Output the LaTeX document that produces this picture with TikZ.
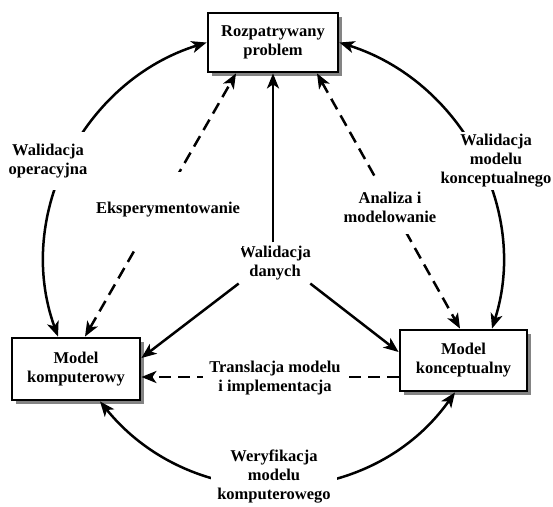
\documentclass[tikz,border=0pt]{standalone}
\usepackage{fontspec}
\setmainfont{Liberation Serif}
\usetikzlibrary{arrows.meta,shadows,calc}
\begin{document}
\begin{tikzpicture}[x=1pt,y=-1pt,
  >={Stealth[length=15pt,width=12pt,inset=4pt]},
  txt/.style={font=\fontsize{16.5}{19}\selectfont\bfseries, align=center},
  box/.style={txt, draw, line width=2.8pt, fill=white, inner sep=0pt,
    drop shadow={shadow xshift=3.5pt, shadow yshift=-3.5pt, fill=black!60, opacity=0.8}},
  lbl/.style={txt, fill=white, inner sep=2pt},
  conn/.style={line width=2.5pt},
  dsh/.style={dash pattern=on 12pt off 7pt}
]
\useasboundingbox (0,0) rectangle (553,506);
\fill[white] (0,0) rectangle (553,506);

% boxes
\node[box, minimum width=130pt, minimum height=59pt] (top) at (273,42.5) {Rozpatrywany\\problem};
\node[box, minimum width=128pt, minimum height=62pt] (lm) at (76,369) {Model\\komputerowy};
\node[box, minimum width=127pt, minimum height=61pt] (rm) at (463.5,360.5) {Model\\konceptualny};

% end points on the boxes
\coordinate (wo1) at ($(lm.north)+(-18,0)$);
\coordinate (ek1) at ($(lm.north)+(9,0)$);
\coordinate (ek2) at ($(top.south)+(-37,0)$);
\coordinate (an1) at ($(top.south)+(44,0)$);
\coordinate (an2) at ($(rm.north)+(-3.5,0)$);
\coordinate (wk2) at ($(rm.north)+(28.5,0)$);
\coordinate (wf1) at ($(lm.south)+(24,0)$);
\coordinate (wf2) at ($(rm.south)+(-8.5,0)$);
\coordinate (wdl) at ($(lm.east)+(0,-11)$);
\coordinate (wdr) at ($(rm.west)+(0,-8.5)$);
\coordinate (tr) at ($(rm.west)+(0,16.5)$);

% Walidacja danych
\node[txt] (wd) at (275,263) {Walidacja\\danych};
\draw[conn,->] (wd.north -| top.south) -- (top.south);
\draw[conn,->] ($(wd.south west)+(3,0)$) -- (wdl);
\draw[conn,->] ($(wd.south east)+(-4,0)$) -- (wdr);

% outer arcs
\draw[conn,<->] (wo1) .. controls (14,215) and (83,81) .. (top.west);
\draw[conn,<->] (top.east) .. controls (460,80.5) and (530,208.5) .. (wk2);
\draw[conn,<->] (wf1) .. controls (193,516) and (369,513) .. (wf2);

% dashed connectors
\draw[conn,dsh,<->] (ek1) -- (ek2);
\draw[conn,dsh,<->] (an1) -- (an2);
\draw[conn,dsh,->] (tr) -- (tr -| lm.east);

% labels
\node[lbl, inner ysep=12pt] (wop) at (48,161) {Walidacja\\operacyjna};
\node[lbl] (wmk) at (496,161) {Walidacja\\modelu\\konceptualnego};
\node[lbl, inner ysep=30pt] (ek) at (168,210) {Eksperymentowanie};
\node[lbl, inner ysep=12pt] (an) at (390,207) {Analiza i\\modelowanie};
\node[lbl, inner xsep=6pt] (tl) at (275,378) {Translacja modelu\\i implementacja};
\node[lbl, inner xsep=6pt, inner ysep=1pt] (wf) at (274,477) {Weryfikacja\\modelu\\komputerowego};
\end{tikzpicture}
\end{document}
